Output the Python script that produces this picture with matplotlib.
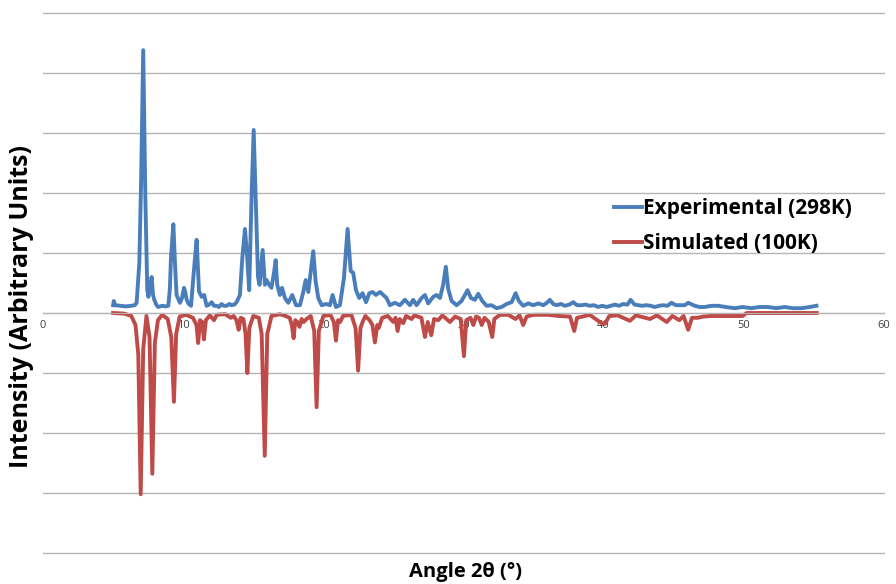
import matplotlib.pyplot as plt
import numpy as np

plt.rcParams['font.family'] = ['Open Sans', 'DejaVu Sans']

# experimental powder pattern (2theta, intensity)
exp_angle = [5.0, 5.05, 5.15, 5.5, 5.9, 6.3, 6.55, 6.68, 6.87, 7.0, 7.15, 7.3, 7.44, 7.52, 7.65,
             7.75, 7.85, 7.94, 8.1, 8.22, 8.5, 8.75, 8.94, 9.05, 9.13, 9.3, 9.42, 9.53, 9.77, 9.92,
             10.06, 10.15, 10.25, 10.4, 10.56, 10.8, 10.96, 11.13, 11.32, 11.5, 11.67, 11.85, 12.03,
             12.2, 12.39, 12.55, 12.74, 12.9, 13.1, 13.3, 13.46, 13.65, 13.81, 14.05, 14.22, 14.41,
             14.57, 14.71, 14.88, 15.03, 15.17, 15.34, 15.45, 15.67, 15.83, 15.95, 16.14, 16.3, 16.48,
             16.6, 16.71, 16.9, 17.05, 17.26, 17.5, 17.78, 18.05, 18.33, 18.57, 18.74, 18.93, 19.1,
             19.28, 19.45, 19.64, 19.88, 20.19, 20.47, 20.66, 20.9, 21.18, 21.47, 21.73, 21.95, 22.13,
             22.33, 22.56, 22.8, 23.04, 23.28, 23.52, 23.75, 24.04, 24.27, 24.51, 24.75, 25.1, 25.46,
             25.82, 26.18, 26.41, 26.65, 27.01, 27.25, 27.48, 27.84, 28.08, 28.32, 28.55, 28.74, 28.91,
             29.15, 29.51, 29.86, 30.1, 30.29, 30.53, 30.81, 31.05, 31.34, 31.65, 32.0, 32.36, 32.72,
             33.07, 33.43, 33.72, 33.95, 34.26, 34.62, 34.97, 35.33, 35.69, 35.95, 36.16, 36.4, 36.64,
             36.95, 37.23, 37.55, 37.83, 38.1, 38.42, 38.7, 39.02, 39.3, 39.61, 39.9, 40.21, 40.5,
             40.8, 41.1, 41.39, 41.7, 41.92, 42.2, 42.46, 42.75, 43.06, 43.35, 43.65, 43.95, 44.24,
             44.55, 44.84, 45.15, 45.43, 45.79, 46.03, 46.5, 46.85, 47.2, 47.7, 48.17, 48.7, 49.36,
             49.9, 50.55, 51.1, 51.73, 52.3, 52.92, 53.5, 54.11, 54.7, 55.18]
exp_int = [0.13, 0.2, 0.13, 0.12, 0.11, 0.12, 0.13, 0.17, 0.83, 2.2, 4.38, 1.94, 0.38, 0.27, 0.45,
           0.6, 0.3, 0.22, 0.13, 0.1, 0.12, 0.11, 0.12, 0.4, 0.92, 1.48, 0.8, 0.3, 0.17, 0.25,
           0.42, 0.35, 0.22, 0.15, 0.12, 0.8, 1.22, 0.36, 0.27, 0.3, 0.12, 0.14, 0.18,
           0.12, 0.12, 0.1, 0.15, 0.12, 0.12, 0.15, 0.13, 0.14, 0.18, 0.3, 0.92, 1.4,
           0.92, 0.38, 1.94, 3.05, 1.94, 0.6, 0.47, 1.05, 0.47, 0.55, 0.47, 0.42, 0.67,
           0.88, 0.47, 0.3, 0.42, 0.25, 0.17, 0.3, 0.13, 0.13, 0.35, 0.55, 0.35, 0.69,
           1.03, 0.53, 0.25, 0.13, 0.15, 0.13, 0.3, 0.1, 0.13, 0.58, 1.4, 0.7, 0.67,
           0.38, 0.25, 0.33, 0.18, 0.33, 0.35, 0.3, 0.35, 0.3, 0.25, 0.13, 0.17, 0.13,
           0.22, 0.13, 0.22, 0.13, 0.25, 0.3, 0.16, 0.27, 0.3, 0.25, 0.47, 0.77, 0.4,
           0.2, 0.13, 0.2, 0.3, 0.38, 0.25, 0.22, 0.32, 0.2, 0.12, 0.13, 0.08, 0.1,
           0.15, 0.18, 0.33, 0.2, 0.12, 0.16, 0.13, 0.16, 0.13, 0.17, 0.22, 0.15, 0.13,
           0.15, 0.12, 0.14, 0.18, 0.13, 0.13, 0.14, 0.12, 0.13, 0.1, 0.12, 0.1, 0.12,
           0.14, 0.12, 0.15, 0.14, 0.22, 0.14, 0.13, 0.12, 0.13, 0.12, 0.1, 0.12, 0.13,
           0.12, 0.17, 0.13, 0.13, 0.13, 0.17, 0.12, 0.1, 0.1, 0.12, 0.12, 0.1, 0.08,
           0.1, 0.08, 0.1, 0.1, 0.08, 0.1, 0.08, 0.08, 0.1, 0.12]

# simulated pattern, plotted inverted below the axis
sim_angle = [5.0, 5.8, 6.3, 6.6, 6.8, 6.97, 7.15, 7.38, 7.6, 7.8, 7.98, 8.2, 8.5, 8.9, 9.15, 9.34,
             9.5, 9.75, 10.2, 10.7, 10.95, 11.07, 11.2, 11.35, 11.48, 11.62, 11.9, 12.2, 12.4, 13.0,
             13.4, 13.6, 13.8, 13.96, 14.1, 14.3, 14.45, 14.58, 14.72, 15.0, 15.4, 15.6, 15.82, 16.0,
             16.3, 16.9, 17.3, 17.6, 17.75, 17.88, 18.0, 18.15, 18.3, 18.45, 18.6, 18.8, 19.1, 19.35,
             19.52, 19.68, 20.0, 20.5, 20.75, 20.9, 21.05, 21.2, 21.4, 22.0, 22.3, 22.48, 22.65, 22.8,
             23.0, 23.3, 23.5, 23.68, 23.85, 23.95, 24.2, 24.6, 24.99, 25.15, 25.3, 25.45, 25.7, 25.9,
             26.3, 26.5, 27.0, 27.25, 27.45, 27.7, 27.9, 28.2, 28.5, 29.03, 29.4, 29.8, 30.03, 30.2,
             30.5, 30.7, 30.9, 31.1, 31.3, 31.5, 31.8, 32.05, 32.2, 32.6, 33.2, 33.7, 34.0, 34.26,
             34.5, 35.0, 36.0, 36.8, 37.6, 37.9, 38.1, 38.5, 39.0, 39.85, 40.1, 40.4, 41.0, 41.87,
             42.3, 43.3, 43.8, 44.5, 44.9, 45.4, 45.7, 46.03, 46.3, 46.7, 47.1, 47.7, 48.6, 49.9,
             50.2, 55.2]
sim_int = [0, 0.01, 0.05, 0.2, 0.7, 3.02, 0.6, 0.05, 0.4, 2.68, 0.5, 0.12, 0.03, 0.1, 0.4, 1.48,
           0.35, 0.06, 0.03, 0.08, 0.2, 0.5, 0.12, 0.15, 0.44, 0.12, 0.04, 0.12, 0.03, 0.02,
           0.08, 0.05, 0.12, 0.28, 0.08, 0.1, 0.35, 1.0, 0.25, 0.05, 0.08, 0.35, 2.38, 0.35,
           0.05, 0.02, 0.05, 0.08, 0.2, 0.42, 0.12, 0.15, 0.23, 0.1, 0.15, 0.1, 0.05, 0.3,
           1.57, 0.3, 0.05, 0.03, 0.15, 0.46, 0.12, 0.15, 0.05, 0.03, 0.25, 0.96, 0.25, 0.15,
           0.05, 0.12, 0.2, 0.49, 0.2, 0.25, 0.08, 0.05, 0.15, 0.08, 0.3, 0.1, 0.17, 0.05,
           0.1, 0.04, 0.08, 0.4, 0.15, 0.37, 0.1, 0.12, 0.04, 0.15, 0.06, 0.1, 0.72, 0.12,
           0.08, 0.2, 0.06, 0.08, 0.2, 0.08, 0.15, 0.4, 0.1, 0.03, 0.03, 0.1, 0.04, 0.2,
           0.06, 0.03, 0.03, 0.05, 0.06, 0.3, 0.08, 0.06, 0.03, 0.17, 0.18, 0.05, 0.04, 0.13,
           0.04, 0.1, 0.04, 0.15, 0.05, 0.12, 0.05, 0.28, 0.08, 0.08, 0.06, 0.05, 0.05, 0.05,
           0, 0]

xticks = [0, 10, 20, 30, 40, 50, 60]

fig = plt.figure(figsize=(8.96, 5.84), dpi=100)
ax = fig.add_axes([43 / 896, 31 / 584, 841 / 896, 540 / 584])

ax.plot(exp_angle, exp_int, color='#4A7EBB', lw=2.8, label='Experimental (298K)',
        solid_joinstyle='round')
ax.plot(sim_angle, -np.array(sim_int), color='#BE4B48', lw=2.8, label='Simulated (100K)',
        solid_joinstyle='round')

ax.set_xlim(0, 60)
ax.set_ylim(-4, 5)
ax.set_yticks(np.arange(-4, 6, 1))
ax.set_xticks(xticks)
ax.grid(axis='y', color='#b5b5b5', lw=1)
ax.set_axisbelow(True)
# keep the outermost gridlines at full width on the axes edge
for gl in ax.yaxis.get_gridlines():
    gl.set_clip_on(False)
for s in ['left', 'right', 'top']:
    ax.spines[s].set_visible(False)
ax.spines['bottom'].set_position(('data', 0))
ax.spines['bottom'].set_color('#b5b5b5')
ax.tick_params(axis='y', length=0, labelleft=False)
ax.tick_params(axis='x', length=0, pad=5, labelsize=8, labelcolor='#404040')

fig.text(22 / 896, 1 - 307 / 584, 'Intensity (Arbitrary Units)', rotation=90,
         ha='center', va='center', fontsize=18, fontweight='bold')
fig.text(465 / 896, 1 - 572 / 584, 'Angle 2\u03b8 (\u00b0)', ha='center', va='center',
         fontsize=14.5, fontweight='bold')

leg = ax.legend(loc='center left', bbox_to_anchor=((614 - 43) / 841, (553 - 226) / 540),
                frameon=False, borderaxespad=0, borderpad=0, handlelength=1.35,
                handletextpad=0.05, labelspacing=0.68, prop={'weight': 'bold', 'size': 15})

fig.savefig('out.png', dpi=100)
